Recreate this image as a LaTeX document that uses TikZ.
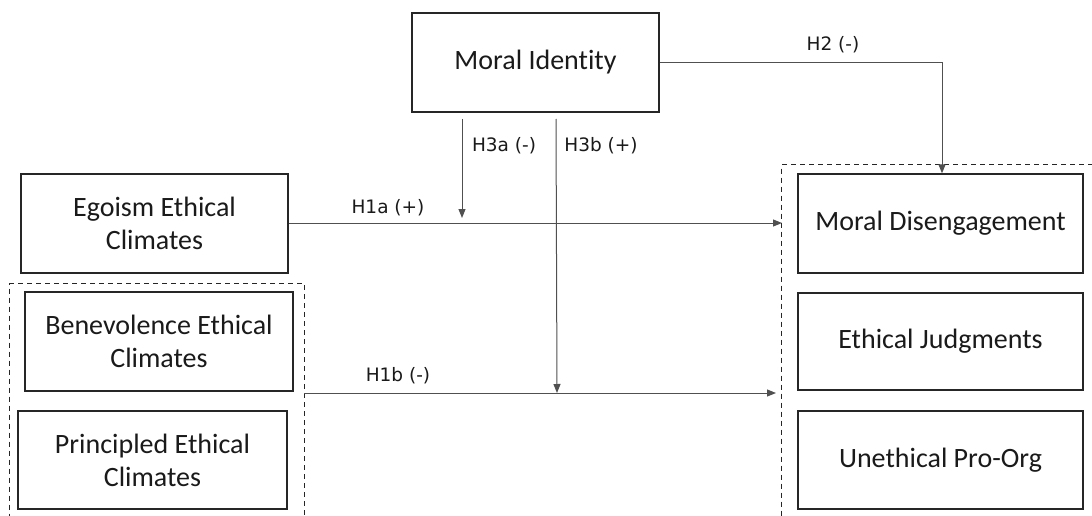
\documentclass[tikz,border=0pt]{standalone}
\usepackage{fontspec}
\setmainfont{Carlito}[Ligatures=NoCommon]
\newfontfamily\lblfont{DejaVu Sans}
\usetikzlibrary{arrows.meta}
\definecolor{boxline}{HTML}{262626}
\definecolor{conn}{HTML}{505050}
\definecolor{txt}{HTML}{1A1A1A}
\tikzset{
  varbox/.style={draw=boxline, line width=1.3pt, inner sep=0pt, align=center, text=txt,
    font=\fontsize{28}{33}\selectfont},
  grpbox/.style={draw=boxline, line width=1.1pt, dashed, dash pattern=on 5pt off 4pt, inner sep=0pt},
  conline/.style={draw=conn, line width=1pt},
  conarrow/.style={conline, -{Triangle[length=9pt,width=7pt]}},
  hyplabel/.style={text=txt, inner sep=0pt, font=\lblfont\fontsize{18.5}{22}\selectfont}
}
\begin{document}
\begin{tikzpicture}[x=1pt,y=-1pt]
\clip (0,0) rectangle (1092,516);
\fill[white] (0,0) rectangle (1092,516);
% group boxes
\node[grpbox, minimum width=295pt, minimum height=260pt, anchor=north west] (leftgrp) at (9,283) {};
\node[grpbox, minimum width=330pt, minimum height=380pt, anchor=north west] (rightgrp) at (781,164) {};
% variable boxes
\node[varbox, minimum width=247pt, minimum height=99pt] (mi) at (535.5,62.5) {Moral Identity};
\node[varbox, minimum width=267pt, minimum height=99pt] (eg) at (154.5,223.5) {Egoism Ethical\\Climates};
\node[varbox, minimum width=268pt, minimum height=99pt] (be) at (159,341.5) {Benevolence Ethical\\Climates};
\node[varbox, minimum width=269pt, minimum height=98pt] (pe) at (152.5,460) {Principled Ethical\\Climates};
\node[varbox, minimum width=285pt, minimum height=99pt] (md) at (940.5,223.5) {Moral Disengagement};
\node[varbox, minimum width=285pt, minimum height=97pt] (ej) at (940.5,341.5) {Ethical Judgments};
\node[varbox, minimum width=285pt, minimum height=98pt] (upo) at (940.5,460) {Unethical Pro-Org};
% connector end points
\coordinate (h1aend) at (782,223);
\coordinate (h1bstart) at (304,393);
\coordinate (h1bend) at (776,393);
\coordinate (h3astart) at (462,119);
\coordinate (h3aend) at (462,218);
\coordinate (h3bstart) at (556,119);
\coordinate (h3bend) at (557,393);
\coordinate (h2turn) at (942,63);
% connectors
\draw[conarrow] (mi.east |- h2turn) -- (h2turn) -- (h2turn |- md.north);
\draw[conarrow] (eg.east |- h1aend) -- (h1aend);
\draw[conarrow] (h1bstart) -- (h1bend);
\draw[conarrow] (h3astart) -- (h3aend);
\draw[conarrow] (h3bstart) -- (h3bend);
% labels
\node[hyplabel] (l2) at (833,45) {H2 (-)};
\node[hyplabel] (l3a) at (504,146) {H3a (-)};
\node[hyplabel] (l3b) at (601,146) {H3b (+)};
\node[hyplabel] (l1a) at (388,208) {H1a (+)};
\node[hyplabel] (l1b) at (398,376) {H1b (-)};
\end{tikzpicture}
\end{document}
